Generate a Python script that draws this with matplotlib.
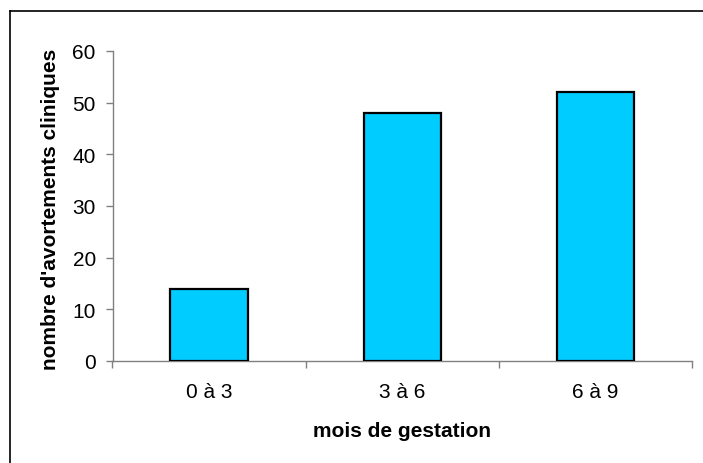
import matplotlib
matplotlib.use("Agg")
import matplotlib.pyplot as plt
from matplotlib.lines import Line2D
from matplotlib.ticker import FixedLocator, NullFormatter

# Data
categories = ["0 à 3", "3 à 6", "6 à 9"]
values = [14, 48, 52]
y_ticks = [0, 10, 20, 30, 40, 50, 60]

plt.rcParams['font.family'] = ['Liberation Sans', 'DejaVu Sans']

W, H = 703, 464
fig = plt.figure(figsize=(W / 100, H / 100), dpi=100)
ax = fig.add_axes([112.5 / W, 1 - 362 / H, (692 - 112.5) / W, (362 - 52) / H])

x = list(range(len(categories)))
ax.bar(x, values, width=0.4, color="#00CCFF", edgecolor="black", linewidth=1.6, zorder=3)

ax.set_xlim(-0.5, len(categories) - 0.5)
ax.set_ylim(0, 60)
ax.set_yticks(y_ticks)

# category boundaries carry the tick marks, centers carry the labels
ax.xaxis.set_major_locator(FixedLocator([i - 0.5 for i in range(len(categories) + 1)]))
ax.xaxis.set_major_formatter(NullFormatter())
ax.xaxis.set_minor_locator(FixedLocator(x))
ax.set_xticklabels(categories, minor=True)

spine_color = "#808080"
for side in ("top", "right"):
    ax.spines[side].set_visible(False)
for side in ("left", "bottom"):
    ax.spines[side].set_color(spine_color)
    ax.spines[side].set_linewidth(1.0)

ax.tick_params(axis="y", which="major", length=5, width=1.0, color=spine_color,
               labelsize=15, pad=7, labelcolor="black")
ax.tick_params(axis="x", which="major", length=5, width=1.0, color=spine_color)
ax.tick_params(axis="x", which="minor", length=0, labelsize=15, pad=15, labelcolor="black")

fig.text(402 / W, 1 - 432 / H, "mois de gestation", ha="center", va="center",
         fontsize=15, fontweight="bold")
fig.text(51 / W, 1 - 209 / H, "nombre d'avortements cliniques", ha="center", va="center",
         rotation=90, fontsize=15, fontweight="bold")

# chart frame (top and left edges)
fig.add_artist(Line2D([10 / W, 1.0], [1 - 12 / H, 1 - 12 / H], color="black", linewidth=1.2,
                      transform=fig.transFigure))
fig.add_artist(Line2D([10 / W, 10 / W], [1 - 12 / H, 0.0], color="black", linewidth=1.2,
                      transform=fig.transFigure))

fig.savefig("out.png", dpi=100)
